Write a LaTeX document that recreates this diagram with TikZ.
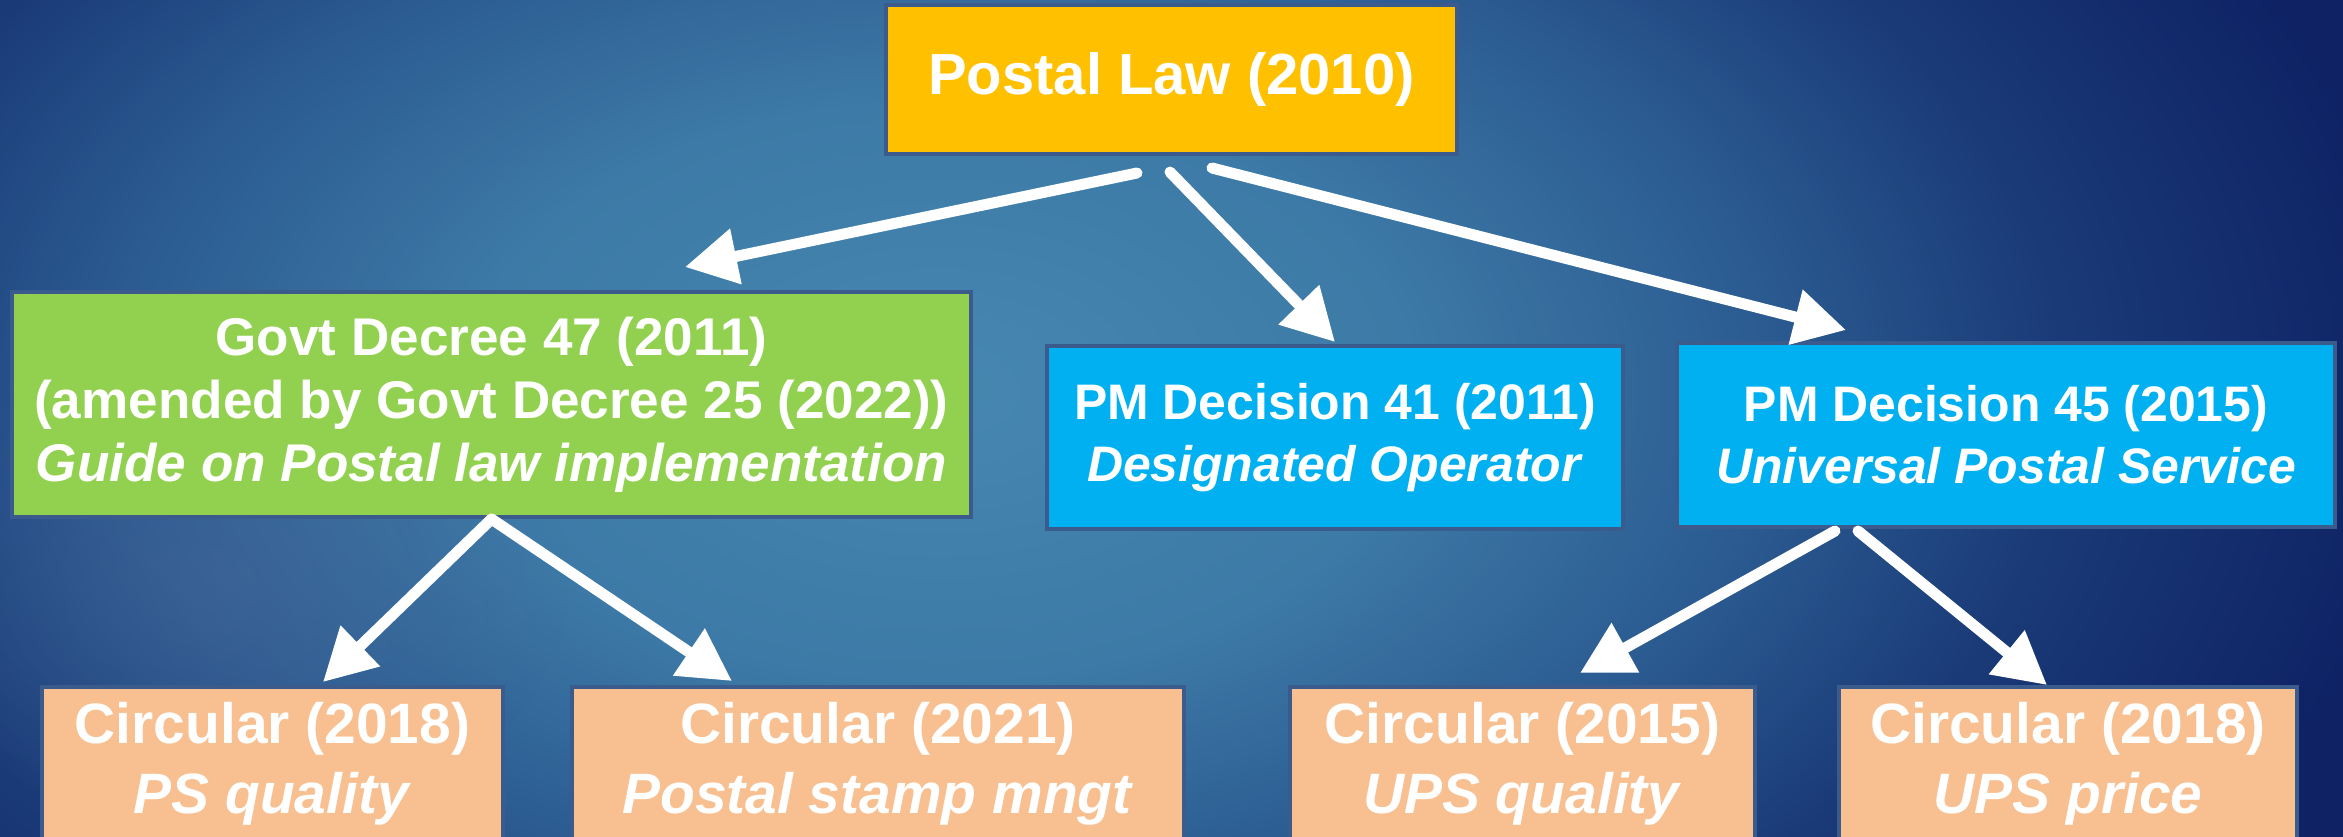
\documentclass[tikz,border=0pt]{standalone}
\usepackage{fontspec}
\setmainfont{Liberation Sans}
\usetikzlibrary{arrows.meta,fadings}

\definecolor{lawgold}{HTML}{FFC000}
\definecolor{decgreen}{HTML}{92D050}
\definecolor{pmblue}{HTML}{00B0F0}
\definecolor{circpeach}{HTML}{F8BF90}
\definecolor{edge}{HTML}{3A5B8B}
\definecolor{bgA}{HTML}{4687B0}
\definecolor{bgB}{HTML}{3D7AA7}
\definecolor{bgC}{HTML}{2B5B91}
\definecolor{bgD}{HTML}{1A3A77}
\definecolor{bgE}{HTML}{0E2264}
\definecolor{bgspot}{HTML}{4A6699}

\pgfdeclareradialshading{bgglow}{\pgfpoint{0bp}{0bp}}{%
  color(0bp)=(bgA); color(8bp)=(bgB); color(14bp)=(bgC);
  color(19bp)=(bgD); color(25bp)=(bgE); color(50bp)=(bgE)}
\tikzfading[name=softspot, inner color=transparent!55, outer color=transparent!100]

\tikzset{
  box/.style={draw=edge, line width=0.4mm, text=white, align=center, inner sep=0pt},
  lawbox/.style={box, fill=lawgold, font=\fontsize{16.5}{19}\selectfont\bfseries},
  decbox/.style={box, fill=decgreen, font=\fontsize{15.1}{17.9}\selectfont\bfseries},
  pmbox/.style={box, fill=pmblue, font=\fontsize{14.2}{17.6}\selectfont\bfseries},
  circbox/.style={box, fill=circpeach, minimum height=1.54cm,
    font=\fontsize{16.2}{19.9}\selectfont\bfseries},
  link/.style={draw=white, line width=1.1mm, line cap=round,
    -{Triangle[length=5.2mm,width=5.4mm]}}
}

\begin{document}
\begin{tikzpicture}
\useasboundingbox (0,0) rectangle (23.43,-8.36);
% background
\fill[bgE] (-0.2,0.2) rectangle (23.63,-8.56);
\shade[shading=bgglow] (9.4,-3.9) ellipse [x radius=14.8, y radius=9];
\fill[bgspot, path fading=softspot] (2.2,-5.8) ellipse [x radius=3.5, y radius=2.6];

% law and its decrees
\node[lawbox, minimum width=5.71cm, minimum height=1.49cm] (law) at (11.715,-0.795) {Postal Law (2010)};
\node[decbox, minimum width=9.59cm, minimum height=2.25cm] (decree) at (4.915,-4.045)
  {Govt Decree 47 (2011)\\(amended by Govt Decree 25 (2022))\\\textit{Guide on Postal law implementation}};
\node[pmbox, minimum width=5.76cm, minimum height=1.83cm] (pm41) at (13.35,-4.375)
  {PM Decision 41 (2011)\\\textit{Designated Operator}};
\node[pmbox, minimum width=6.58cm, minimum height=1.84cm] (pm45) at (20.06,-4.35)
  {PM Decision 45 (2015)\\\textit{Universal Postal Service}};

% circulars (cut at the bottom)
\node[circbox, minimum width=4.61cm] (circA) at (2.725,-7.64) {Circular (2018)\\\textit{PS quality}};
\node[circbox, minimum width=6.12cm] (circB) at (8.78,-7.64) {Circular (2021)\\\textit{Postal stamp mngt}};
\node[circbox, minimum width=4.65cm] (circC) at (15.225,-7.64) {Circular (2015)\\\textit{UPS quality}};
\node[circbox, minimum width=4.58cm] (circD) at (20.68,-7.64) {Circular (2018)\\\textit{UPS price}};

% arrows
\draw[link] ([xshift=-3.45mm,yshift=-1.7mm]law.south) -- ([xshift=19.35mm,yshift=2.3mm]decree.north);
\draw[link] ([xshift=-0.15mm,yshift=-1.6mm]law.south) -- ([yshift=0.2mm]pm41.north);
\draw[link] ([xshift=4.05mm,yshift=-1.2mm]law.south) -- ([xshift=-16mm,yshift=1.1mm]pm45.north);
\draw[link] (decree.south) -- ([xshift=5.05mm,yshift=0.3mm]circA.north);
\draw[link] (decree.south) -- ([xshift=-14.6mm,yshift=0.4mm]circB.north);
\draw[link] ([xshift=-17.1mm,yshift=-0.2mm]pm45.south) -- ([xshift=5.75mm,yshift=1.2mm]circC.north);
\draw[link] ([xshift=-14.8mm,yshift=-0.2mm]pm45.south) -- ([xshift=-2.1mm]circD.north);
\end{tikzpicture}
\end{document}
